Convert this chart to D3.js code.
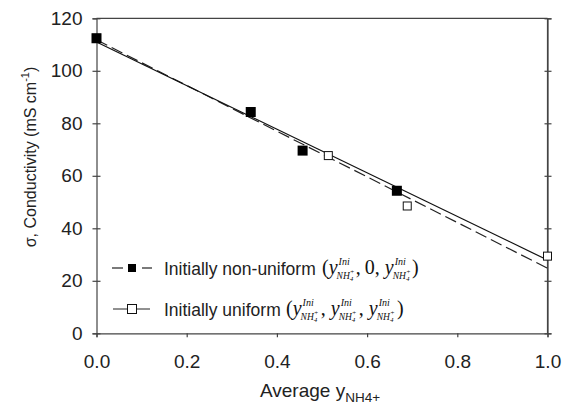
<!DOCTYPE html>
<html><head><meta charset="utf-8">
<script src="https://cdn.jsdelivr.net/npm/d3@7"></script>
<style>body{margin:0;background:#fff}svg{display:block}</style>
</head><body>
<svg id="c" width="568" height="407"></svg>
<script>
const xTicks = [0, 0.2, 0.4, 0.6, 0.8, 1.0];
const yTicks = [0, 20, 40, 60, 80, 100, 120];
const nonUniformX = [0, 0.342, 0.457, 0.666];
const nonUniformY = [112.4, 84.3, 69.6, 54.3];
const uniformX = [0, 0.514, 0.689, 1.0];
const uniformY = [112.4, 67.7, 48.5, 29.4];
const fitNonUniformX = [0, 1];
const fitNonUniformY = [111.8, 24.8];
const fitUniformX = [0, 1];
const fitUniformY = [111.0, 27.9];
const legendLabels = ["Initially non-uniform", "Initially uniform"];

const svg = d3.select("#c");
const x = d3.scaleLinear().domain([0, 1]).range([96.5, 547.5]);
const y = d3.scaleLinear().domain([0, 120]).range([333.3, 18.3]);
const axisColor = "#444";
const font = "'Liberation Sans', Arial, sans-serif";
const serif = "'Liberation Serif', 'Times New Roman', serif";

// frame
svg.append("line").attr("x1", x(0)).attr("x2", x(1)).attr("y1", y(120)).attr("y2", y(120)).attr("stroke", axisColor).attr("stroke-width", 1.2);
svg.append("line").attr("x1", x(1)).attr("x2", x(1)).attr("y1", y(120)).attr("y2", y(0)).attr("stroke", axisColor).attr("stroke-width", 1.2);

// axes
const gx = svg.append("g").attr("transform", `translate(0,${y(0)})`)
  .call(d3.axisBottom(x).tickValues(xTicks).tickFormat(d3.format(".1f")).tickSize(4).tickPadding(17));
const gy = svg.append("g").attr("transform", `translate(${x(0)},0)`)
  .call(d3.axisLeft(y).tickValues(yTicks).tickFormat(d3.format("d")).tickSize(4).tickPadding(10));
gy.selectAll(".tick line").attr("x2", 4).attr("x1", -4);
const gr = svg.append("g").attr("transform", `translate(${x(1)},0)`)
  .call(d3.axisRight(y).tickValues(yTicks).tickFormat("").tickSize(4));
gr.selectAll(".tick line").attr("x1", -3).attr("x2", 4);
for (const g of [gx, gy, gr]) {
  g.select(".domain").attr("stroke", axisColor).attr("stroke-width", 1.2);
  g.selectAll(".tick line").attr("stroke", axisColor).attr("stroke-width", 1.2);
  g.selectAll("text").attr("font-family", font).attr("font-size", 19).attr("fill", "#222");
}

// fits
const line = d3.line().x(d => x(d[0])).y(d => y(d[1]));
svg.append("path").datum(d3.zip(fitNonUniformX, fitNonUniformY)).attr("d", line)
  .attr("fill", "none").attr("stroke", "#222").attr("stroke-width", 1.2).attr("stroke-dasharray", "12,5");
svg.append("path").datum(d3.zip(fitUniformX, fitUniformY)).attr("d", line)
  .attr("fill", "none").attr("stroke", "#111").attr("stroke-width", 1.2);

// points
const so = 8, sf = 10;
svg.selectAll(".uo").data(d3.zip(uniformX, uniformY)).join("rect")
  .attr("x", d => x(d[0]) - so / 2).attr("y", d => y(d[1]) - so / 2).attr("width", so).attr("height", so)
  .attr("fill", "#fff").attr("stroke", "#111").attr("stroke-width", 1);
svg.selectAll(".nf").data(d3.zip(nonUniformX, nonUniformY)).join("rect")
  .attr("x", d => x(d[0]) - sf / 2).attr("y", d => y(d[1]) - sf / 2).attr("width", sf).attr("height", sf)
  .attr("fill", "#000");

// legend
const lg = svg.append("g");
function piece(x0, yb, txt, size, italic) {
  const t = lg.append("text").attr("x", x0).attr("y", yb).attr("font-family", serif)
    .attr("font-size", size).attr("fill", "#111").attr("font-style", italic ? "italic" : "normal").text(txt);
  return t.node().getComputedTextLength();
}
function formula(x0, yb, parts, gap) {
  let cx = x0;
  for (const p of parts) {
    if (p === "Y") {
      cx += piece(cx, yb, "y", 20, true);
      const wi = piece(cx + 1, yb - 9, "Ini", 10, true);
      let ws = piece(cx - 1, yb + 5, "NH", 9.5, true);
      piece(cx - 1 + ws, yb + 7, "4", 7, true);
      piece(cx - 1 + ws, yb, "+", 7, true);
      ws += 3;
      cx += Math.max(wi + 1, ws) + gap;
    } else {
      cx += piece(cx, yb, p, 20, false);
    }
  }
}
const r1 = 268, r2 = 309;
// row 1: dashed line with filled marker
lg.append("line").attr("x1", 112).attr("x2", 123).attr("y1", r1).attr("y2", r1).attr("stroke", "#222").attr("stroke-width", 1.2);
lg.append("line").attr("x1", 142).attr("x2", 152).attr("y1", r1).attr("y2", r1).attr("stroke", "#222").attr("stroke-width", 1.2);
lg.append("rect").attr("x", 132 - 4).attr("y", r1 - 4).attr("width", 8).attr("height", 8).attr("fill", "#000");
lg.append("text").attr("x", 164).attr("y", r1 + 6.5).attr("font-family", font).attr("font-size", 17.5).attr("fill", "#222").text(legendLabels[0]);
formula(322, r1 + 6, ["(", "Y", ",\u20090,\u00a0", "Y", ")"], 2);
// row 2: solid line with open marker
lg.append("line").attr("x1", 113).attr("x2", 150).attr("y1", r2).attr("y2", r2).attr("stroke", "#222").attr("stroke-width", 1);
lg.append("rect").attr("x", 132 - 4.5).attr("y", r2 - 4.5).attr("width", 9).attr("height", 9).attr("fill", "#fff").attr("stroke", "#111");
lg.append("text").attr("x", 164).attr("y", r2 + 6.5).attr("font-family", font).attr("font-size", 17.5).attr("fill", "#222").text(legendLabels[1]);
formula(286, r2 + 6, ["(", "Y", ",\u00a0", "Y", ",\u00a0", "Y", ")"], 3);

// axis titles
const xt = svg.append("text").attr("x", 320).attr("y", 397).attr("text-anchor", "middle")
  .attr("font-family", font).attr("font-size", 19).attr("fill", "#222");
xt.append("tspan").text("Average y");
xt.append("tspan").attr("font-size", 13.5).attr("dy", 5).text("NH4+");

const yt = svg.append("text").attr("transform", "translate(36,157) rotate(-90)").attr("text-anchor", "middle")
  .attr("font-family", font).attr("font-size", 16).attr("fill", "#222");
yt.append("tspan").text("σ, Conductivity (mS cm");
yt.append("tspan").attr("font-size", 11).attr("dy", -7).text("-1");
yt.append("tspan").attr("dy", 7).text(")");
</script>
</body></html>
